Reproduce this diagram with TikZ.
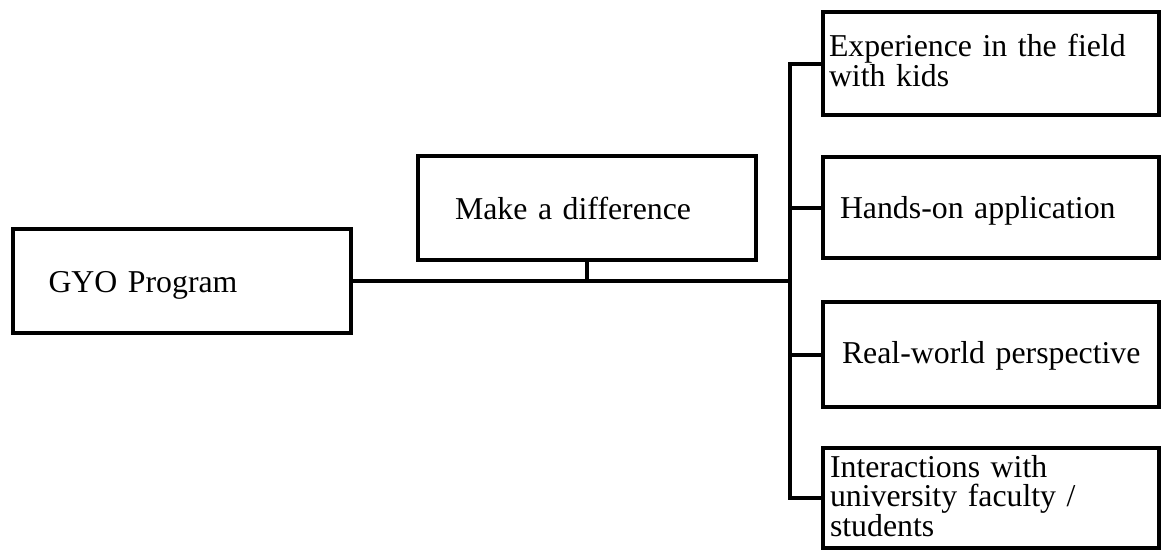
\documentclass[tikz,border=0pt]{standalone}
\usepackage{fontspec}
\setmainfont{Liberation Serif}
\usepackage{tikz}
\usetikzlibrary{positioning}

\newcommand{\boxfont}{\fontsize{31.8pt}{29.5pt}\selectfont\hyphenpenalty=10000\exhyphenpenalty=10000\relax}

\begin{document}
\begin{tikzpicture}[
    x=1pt, y=-1pt,
    box/.style={rectangle, draw=black, line width=4pt, inner ysep=0pt, minimum height=104pt, align=left, font=\boxfont, text height=22pt, text depth=0pt},
    link/.style={line width=4pt, line join=miter},
]
\useasboundingbox (0,0) rectangle (1161,550);

% === LEFT: root and side box ===
\node[box, inner xsep=36pt, text width=266pt] (gyo)  at (181.5, 281) {GYO Program};
\node[box, inner xsep=37pt, text width=264pt] (diff) at (587, 208)   {Make a difference};

% === RIGHT: four outcome boxes, one column ===
\node[box, inner xsep=6pt,  text width=324pt, text depth=36pt, minimum height=103pt] (exp)   at (991, 63.5)  {Experience in the field\\with kids};
\node[box, inner xsep=17pt, text width=302pt, minimum height=101pt] (hands) at (991, 207.5) {Hands-on application};
\node[box, inner xsep=19pt, text width=298pt, text depth=4pt, minimum height=105pt] (real)  at (991, 354.5) {\mbox{Real-world perspective}};
\node[box, inner xsep=7pt,  text width=322pt, text depth=64pt, minimum height=100pt] (inter) at (991, 498)   {Interactions with\\university faculty /\\students};

% =======================================================================
% CONNECTORS
% =======================================================================
\coordinate (J) at (790, 281);

% --- main line and stub ---
\draw[link] (gyo.east) -- (J);
\draw[link] (diff.south) -- (diff.south |- J);

% --- bus with top and bottom branches ---
\draw[link] (exp.west) -| (J) |- (inter.west);

% --- middle branches ---
\draw[link] (J |- hands.west) -- (hands.west);
\draw[link] (J |- real.west) -- (real.west);

\end{tikzpicture}
\end{document}
